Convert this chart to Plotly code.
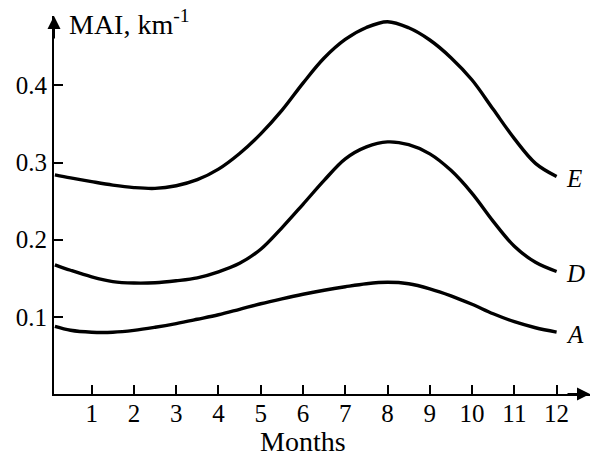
import plotly.graph_objects as go

# Months (x) and MAI values (km^-1)
months = [0.13, 0.5, 1, 1.5, 2, 2.5, 3, 3.5, 4, 4.5, 5, 5.5, 6, 6.5, 7, 7.5, 8,
          8.5, 9, 9.5, 10, 10.5, 11, 11.5, 12]
mai_E = [0.2841, 0.2802, 0.2753, 0.2708, 0.2676, 0.2665, 0.2700, 0.2778, 0.2915, 0.3118, 0.3372,
         0.3676, 0.4030, 0.4355, 0.4596, 0.4751, 0.4826, 0.4747, 0.4589, 0.4360, 0.4070, 0.3690,
         0.3310, 0.2990, 0.2819]
mai_D = [0.1675, 0.1604, 0.1519, 0.1457, 0.1438, 0.1442, 0.1468, 0.1506, 0.1584, 0.1694, 0.1876,
         0.2154, 0.2459, 0.2769, 0.3048, 0.3203, 0.3268, 0.3232, 0.3113, 0.2899, 0.2601, 0.2238,
         0.1915, 0.1707, 0.1588]
mai_A = [0.0876, 0.0826, 0.0801, 0.0801, 0.0825, 0.0865, 0.0913, 0.0969, 0.1027, 0.1098, 0.1170,
         0.1234, 0.1293, 0.1345, 0.1390, 0.1429, 0.1448, 0.1429, 0.1364, 0.1273, 0.1163, 0.1040,
         0.0937, 0.0859, 0.0803]

series_names = ["E", "D", "A"]
x_ticks = list(range(1, 13))
y_ticks = [0.1, 0.2, 0.3, 0.4]

X_RANGE = [0.109, 12.79]
Y_RANGE = [0.0, 0.49]
FONT = "Liberation Serif"

fig = go.Figure()
for name, ys in zip(series_names, [mai_E, mai_D, mai_A]):
    fig.add_trace(go.Scatter(x=months, y=ys, mode="lines", name=name,
                             line=dict(color="black", width=3.4, shape="spline", smoothing=1.0),
                             showlegend=False))
    fig.add_annotation(x=months[-1], y=ys[-1], text=f"<i>{name}</i>", showarrow=False,
                       xanchor="left", yanchor="middle", xshift=7, yshift=-2,
                       font=dict(family=FONT, size=25, color="black"))

fig.update_xaxes(range=X_RANGE, tickvals=x_ticks, ticktext=[str(t) for t in x_ticks],
                 ticks="inside", ticklen=9, tickwidth=2, tickcolor="black",
                 showline=True, linecolor="black", linewidth=2, showgrid=False, zeroline=False,
                 ticklabelstandoff=-4,
                 tickfont=dict(family=FONT, size=25, color="black"))
fig.update_yaxes(range=Y_RANGE, tickvals=y_ticks, ticktext=[f"{t:.1f}" for t in y_ticks],
                 ticks="inside", ticklen=9, tickwidth=2, tickcolor="black",
                 showline=True, linecolor="black", linewidth=2, showgrid=False, zeroline=False,
                 tickfont=dict(family=FONT, size=25, color="black"))

# axis arrows
fig.add_annotation(x=X_RANGE[1], y=0, ax=-24, ay=0, text="", showarrow=True,
                   arrowhead=2, arrowsize=1.3, arrowwidth=2, arrowcolor="black")
fig.add_annotation(x=X_RANGE[0], y=Y_RANGE[1], ax=0, ay=24, text="", showarrow=True,
                   arrowhead=2, arrowsize=1.3, arrowwidth=2, arrowcolor="black")

# axis titles
fig.add_annotation(xref="paper", yref="paper", x=0.024, y=0.932, text="MAI, km<sup>-1</sup>",
                   showarrow=False, xanchor="left", yanchor="bottom",
                   font=dict(family=FONT, size=28, color="black"))
fig.add_annotation(x=6.0, yref="paper", y=-0.125, text="Months", showarrow=False,
                   xanchor="center", yanchor="middle",
                   font=dict(family=FONT, size=28, color="black"))

fig.update_layout(width=593, height=458, margin=dict(l=54, r=3, t=16, b=64),
                  plot_bgcolor="white", paper_bgcolor="white")

fig.write_html("out.html")
